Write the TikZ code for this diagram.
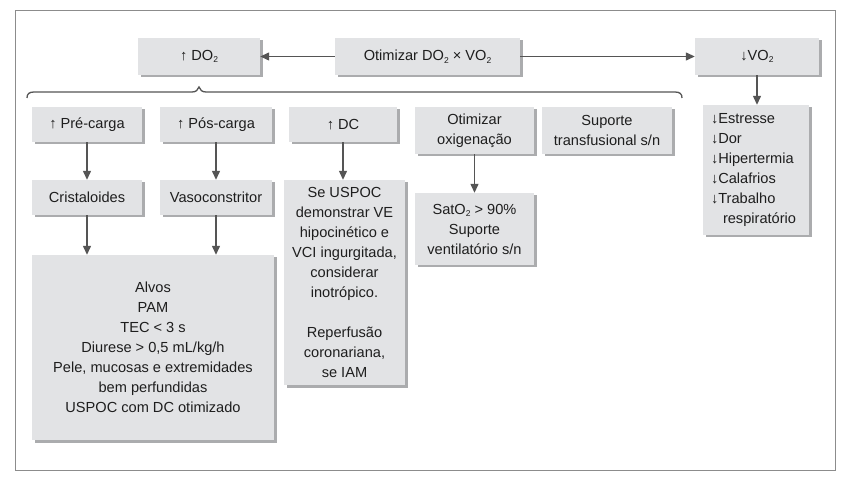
\documentclass[tikz,border=0pt]{standalone}
\usepackage{fontspec}
\setmainfont{Liberation Sans}
\usetikzlibrary{arrows.meta,shadows}
\definecolor{boxfill}{HTML}{E2E3E5}
\definecolor{shadowc}{HTML}{ABACAE}
\definecolor{linec}{HTML}{555555}
\definecolor{framec}{HTML}{8C8C8C}
\definecolor{textc}{HTML}{1E1E1E}
\newcommand{\subtwo}{\raisebox{-2.5pt}{\fontsize{8.5}{8.5}\selectfont 2}}
\begin{document}
\begin{tikzpicture}[x=1pt,y=-1pt,
  box/.style={fill=boxfill, inner sep=0pt, align=center, text=textc,
    font=\fontsize{14.6}{20}\selectfont,
    drop shadow={shadow xshift=2.5pt,shadow yshift=-2.5pt,fill=shadowc,opacity=1}},
  conn/.style={draw=linec, line width=1.3pt, -{Triangle[length=9pt,width=8pt]}}]
\useasboundingbox (0,0) rectangle (857,478);
\fill[white] (0,0) rectangle (857,478);
\draw[framec, line width=0.8pt] (15,10) rectangle (835,470);

\node[box, minimum width=122pt, minimum height=37pt] (do2) at (199,56.5) {↑ DO\subtwo};
\node[box, minimum width=185pt, minimum height=37pt] (otim) at (427.5,56.5) {Otimizar DO\subtwo\ × VO\subtwo};
\node[box, minimum width=124pt, minimum height=37pt] (vo2) at (757,56.5) {↓VO\subtwo};

\node[box, minimum width=110pt, minimum height=35pt] (pre) at (87,124.5) {↑ Pré-carga};
\node[box, minimum width=112pt, minimum height=35pt] (pos) at (216,124.5) {↑ Pós-carga};
\node[box, minimum width=108pt, minimum height=35pt] (dc) at (343,124.5) {↑ DC};
\node[box, minimum width=119pt, minimum height=47pt] (otox) at (474.5,130.5) {Otimizar\\oxigenação};
\node[box, minimum width=130pt, minimum height=47pt] (sup) at (607,130.5) {Suporte\\transfusional s/n};

\node[box, minimum width=110pt, minimum height=35pt] (crist) at (87,197.5) {Cristaloides};
\node[box, minimum width=112pt, minimum height=35pt] (vaso) at (216,197.5) {Vasoconstritor};
\node[box, minimum width=121pt, minimum height=205pt] (dctext) at (344.5,282.5)
  {Se USPOC\\demonstrar VE\\hipocinético e\\VCI ingurgitada,\\considerar\\inotrópico.\\[20pt]Reperfusão\\coronariana,\\se IAM};
\node[box, minimum width=119pt, minimum height=72pt] (sat) at (474.5,229)
  {SatO\subtwo\ > 90\%\\Suporte\\ventilatório s/n};
\node[box, minimum width=242pt, minimum height=185pt] (bottom) at (153,347.5)
  {Alvos\\PAM\\TEC < 3 s\\Diurese > 0,5 mL/kg/h\\Pele, mucosas e extremidades\\bem perfundidas\\USPOC com DC otimizado};
\node[box, minimum width=106pt, minimum height=130pt, text width=90pt, inner xsep=8pt, align=left] (list) at (756,170)
  {↓Estresse\\↓Dor\\↓Hipertermia\\↓Calafrios\\↓Trabalho\\\hspace*{12pt}respiratório};

\draw[conn] (otim.west) -- (do2.east);
\draw[conn] (otim.east) -- (vo2.west);
\draw[conn] (vo2.south) -- (vo2.south |- list.north);
\draw[conn] (pre) -- (crist);
\draw[conn] (pos) -- (vaso);
\draw[conn] (dc.south) -- (dc.south |- dctext.north);
\draw[conn] (otox) -- (sat);
\draw[conn] (crist.south) -- (crist.south |- bottom.north);
\draw[conn] (vaso.south) -- (vaso.south |- bottom.north);

\draw[linec, line width=1.3pt] (27,98) .. controls (27,94) and (29,92) .. (34,92) -- (192,92)
  .. controls (196,92) and (198,90) .. (199,87) .. controls (200,90) and (202,92) .. (206,92)
  -- (675,92) .. controls (680,92) and (682,94) .. (682,98);
\end{tikzpicture}
\end{document}
